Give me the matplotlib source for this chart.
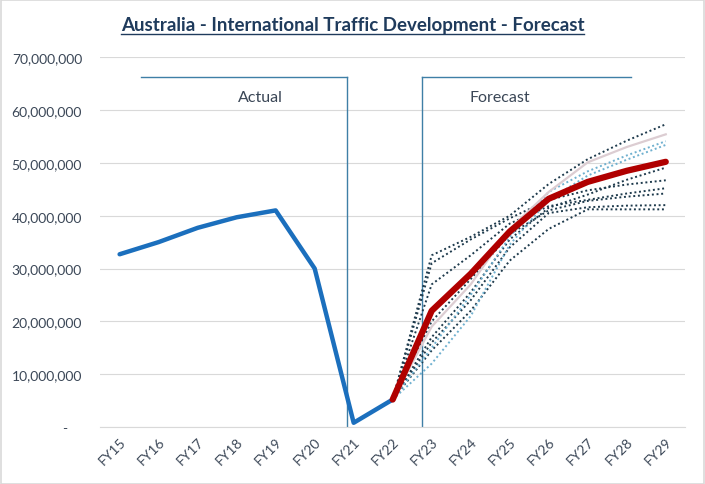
import matplotlib
matplotlib.use("Agg")
import matplotlib.pyplot as plt
from matplotlib.lines import Line2D
from matplotlib.patches import Rectangle
from matplotlib.ticker import FuncFormatter

plt.rcParams["font.family"] = ["Lato", "DejaVu Sans"]

# ── Data ──────────────────────────────────────────────────────────────────────
years = ["FY15", "FY16", "FY17", "FY18", "FY19", "FY20", "FY21", "FY22",
         "FY23", "FY24", "FY25", "FY26", "FY27", "FY28", "FY29"]

actual = [32.7, 35.0, 37.7, 39.7, 41.0, 30.0, 0.8, 5.2]          # FY15..FY22, millions
forecast = [5.2, 22.0, 29.0, 37.0, 43.2, 46.4, 48.5, 50.2]       # FY22..FY29, millions

# scenario runs FY22..FY29 (millions)
scen_dark = [
    [5.2, 32.5, 36.0, 40.0, 46.0, 50.7, 54.2, 57.3],
    [5.2, 31.0, 35.5, 39.5, 43.0, 44.8, 45.9, 46.7],
    [5.2, 27.0, 32.5, 38.5, 41.8, 43.0, 44.2, 45.2],
    [5.2, 17.0, 25.5, 35.5, 41.5, 44.0, 46.8, 49.1],
    [5.2, 16.0, 24.0, 34.0, 40.5, 41.6, 41.9, 42.0],
    [5.2, 14.5, 22.0, 31.5, 37.5, 41.2, 41.2, 41.2],
    [5.2, 20.0, 28.0, 36.5, 41.0, 42.8, 43.6, 44.2],
]
scen_light = [
    [5.2, 15.0, 25.0, 36.0, 44.5, 48.4, 51.4, 54.1],
    [5.2, 12.0, 21.0, 34.5, 43.0, 47.6, 50.6, 53.4],
]
scen_grey = [5.2, 19.0, 27.0, 37.5, 44.5, 50.1, 53.0, 55.4]

# bracket shapes (category index, millions)
actual_bracket_x = [0.54, 5.83]
forecast_bracket_x = [7.75, 13.12]
bracket_y = 66.2

SCALE = 1e6

# ── Plot ──────────────────────────────────────────────────────────────────────
fig = plt.figure(figsize=(7.05, 4.85), dpi=100)
ax = fig.add_axes([0.142, 0.1175, 0.830, 0.7625])

x_act = list(range(len(actual)))
x_fc = list(range(len(actual) - 1, len(years)))

for s in scen_dark:
    ax.plot(x_fc, [v * SCALE for v in s], color="#1e3a4c", lw=1.4,
            ls=(0, (1, 1.4)), zorder=3)
for s in scen_light:
    ax.plot(x_fc, [v * SCALE for v in s], color="#6fb0cf", lw=1.4,
            ls=(0, (1, 1.4)), zorder=3)
ax.plot(x_fc, [v * SCALE for v in scen_grey], color="#dccdd2", lw=1.6, zorder=3)

ax.plot(x_act, [v * SCALE for v in actual], color="#1b6fbd", lw=3.2,
        solid_capstyle="round", zorder=4)
ax.plot(x_fc, [v * SCALE for v in forecast], color="#b00000", lw=4.5,
        solid_capstyle="round", solid_joinstyle="round", zorder=5)

# Actual / Forecast brackets
bc = "#3f7fa6"
ax.plot(actual_bracket_x, [bracket_y * SCALE] * 2, color=bc, lw=1.0, zorder=2)
ax.plot([actual_bracket_x[1]] * 2, [bracket_y * SCALE, 0], color=bc, lw=1.0, zorder=2)
ax.plot(forecast_bracket_x, [bracket_y * SCALE] * 2, color=bc, lw=1.0, zorder=2)
ax.plot([forecast_bracket_x[0]] * 2, [bracket_y * SCALE, 0], color=bc, lw=1.0, zorder=2)
ax.text(3.6, 62.5 * SCALE, "Actual", ha="center", va="center", fontsize=11.5,
        color="#3a4656")
ax.text(9.75, 62.5 * SCALE, "Forecast", ha="center", va="center", fontsize=11.5,
        color="#3a4656")

ax.set_xlim(-0.5, 14.5)
ax.set_ylim(0, 70 * SCALE)
ax.set_yticks([i * 10 * SCALE for i in range(8)])
ax.yaxis.set_major_formatter(FuncFormatter(lambda v, p: "-    " if v == 0 else f"{v:,.0f}"))
ax.set_xticks(range(len(years)))
ax.set_xticklabels(years, rotation=45, ha="right", rotation_mode="anchor")

ax.grid(axis="y", color="#d9d9d9", lw=0.8, zorder=0)
ax.set_axisbelow(True)
for side in ["top", "right", "left"]:
    ax.spines[side].set_visible(False)
ax.spines["bottom"].set_color("#d9d9d9")
ax.tick_params(axis="both", length=0, labelsize=10, labelcolor="#3b4757")
ax.tick_params(axis="y", pad=13)
ax.tick_params(axis="x", pad=6)

# title with underline
title = fig.text(0.5, 0.948, "Australia - International Traffic Development - Forecast",
                 ha="center", va="center", fontsize=13.5, fontweight="bold",
                 color="#1f3b5c")
fig.canvas.draw()
bb = title.get_window_extent().transformed(fig.transFigure.inverted())
fig.add_artist(Line2D([bb.x0, bb.x1], [bb.y0 - 0.003, bb.y0 - 0.003],
                      color="#1f3b5c", lw=1.0, transform=fig.transFigure))

fig.add_artist(Rectangle((0.001, 0.001), 0.997, 0.997, transform=fig.transFigure,
                         fill=False, edgecolor="#d9d9d9", lw=1.2))

fig.savefig("out.png", dpi=100)
